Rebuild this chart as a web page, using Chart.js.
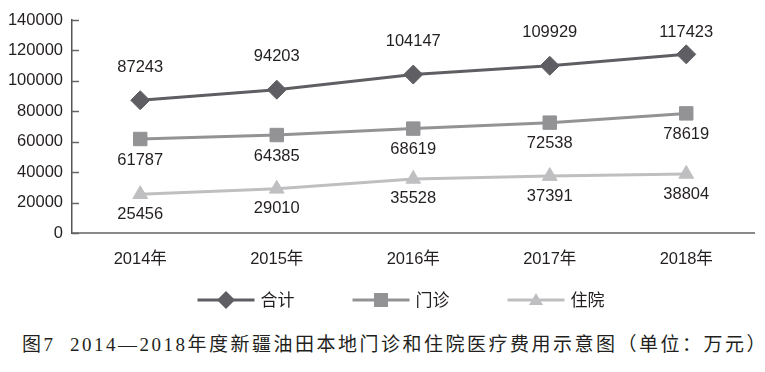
<!DOCTYPE html>
<html>
<head>
<meta charset="utf-8">
<script src="https://cdn.jsdelivr.net/npm/chart.js@4.4.1/dist/chart.umd.min.js"></script>
<style>
  body { margin: 0; background: #fff; }
  #wrap { position: relative; width: 765px; height: 372px; }
  #caption {
    position: absolute; left: 22px; top: 332px; white-space: nowrap;
    font: 19px "Liberation Serif", "Noto Sans CJK SC", serif;
    letter-spacing: 2.5px; color: #231f20; line-height: 26px;
  }
</style>
</head>
<body>
<div id="wrap">
  <canvas id="chart" width="765" height="325"></canvas>
  <div id="caption">图7&nbsp; 2014—2018年度新疆油田本地门诊和住院医疗费用示意图（单位：万元）</div>
</div>
<script>
// Years and cost series (万元)
const years = ["2014年", "2015年", "2016年", "2017年", "2018年"];
const totalCost = [87243, 94203, 104147, 109929, 117423];      // 合计
const outpatientCost = [61787, 64385, 68619, 72538, 78619];    // 门诊
const inpatientCost = [25456, 29010, 35528, 37391, 38804];     // 住院
const yMin = 0, yMax = 140000, yStep = 20000;

const textColor = "#231f20";
const numFont = '"Liberation Sans", Arial, "Noto Sans CJK SC", sans-serif';

// value labels next to each point
const valueLabels = {
  id: "valueLabels",
  afterDatasetsDraw(chart) {
    const ctx = chart.ctx;
    ctx.save();
    ctx.font = "16.5px " + numFont;
    ctx.fillStyle = textColor;
    ctx.textAlign = "center";
    ctx.textBaseline = "middle";
    chart.data.datasets.forEach((ds, i) => {
      chart.getDatasetMeta(i).data.forEach((pt, j) => {
        let y = pt.y + ds.labelOffset;
        if (y < 32) y = 32;
        ctx.fillText(String(ds.data[j]), pt.x, y);
      });
    });
    ctx.restore();
  }
};

// small tick marks pointing into the plot on the y axis
const innerTicks = {
  id: "innerTicks",
  afterDraw(chart) {
    const sc = chart.scales.y;
    const ctx = chart.ctx;
    ctx.save();
    ctx.strokeStyle = "#666";
    ctx.lineWidth = 1.5;
    sc.ticks.forEach(t => {
      const y = Math.round(sc.getPixelForValue(t.value)) + 0.5;
      ctx.beginPath();
      ctx.moveTo(sc.right, y);
      ctx.lineTo(sc.right + 7, y);
      ctx.stroke();
    });
    ctx.restore();
  }
};

// legend: line with marker, then label
const lineLegend = {
  id: "lineLegend",
  afterDraw(chart) {
    const ctx = chart.ctx;
    const lineLen = 57, gap = 6, itemGap = 58, y = 300, cx = 401;
    ctx.save();
    ctx.font = '17px "Noto Sans CJK SC", serif';
    const items = chart.data.datasets.map(ds => ({ ds, w: lineLen + gap + ctx.measureText(ds.label).width }));
    const total = items.reduce((s, it) => s + it.w, 0) + itemGap * (items.length - 1);
    let x = cx - total / 2;
    items.forEach(({ ds, w }) => {
      ctx.strokeStyle = ds.borderColor;
      ctx.lineWidth = 3;
      ctx.beginPath();
      ctx.moveTo(x, y);
      ctx.lineTo(x + lineLen, y);
      ctx.stroke();
      const mx = x + lineLen / 2;
      ctx.fillStyle = ds.backgroundColor;
      ctx.beginPath();
      if (ds.pointStyle === "rectRot") {
        ctx.moveTo(mx - 9, y); ctx.lineTo(mx, y - 9); ctx.lineTo(mx + 9, y); ctx.lineTo(mx, y + 9);
      } else if (ds.pointStyle === "rect") {
        ctx.rect(mx - 7, y - 7, 14, 14);
      } else {
        ctx.moveTo(mx, y - 7); ctx.lineTo(mx + 7, y + 5); ctx.lineTo(mx - 7, y + 5);
      }
      ctx.closePath();
      ctx.fill();
      ctx.fillStyle = textColor;
      ctx.textBaseline = "middle";
      ctx.fillText(ds.label, x + lineLen + gap, y);
      x += w + itemGap;
    });
    ctx.restore();
  }
};

function series(label, data, color, style, radius, offset) {
  return {
    label, data,
    borderColor: color, backgroundColor: color,
    borderWidth: 3,
    pointStyle: style, pointRadius: radius, pointHoverRadius: radius,
    pointBorderWidth: 1, pointBorderColor: color, pointBackgroundColor: color,
    tension: 0,
    labelOffset: offset
  };
}

new Chart(document.getElementById("chart"), {
  type: "line",
  data: {
    labels: years,
    datasets: [
      series("合计", totalCost, "#5f5f63", "rectRot", 9.5, -33),
      series("门诊", outpatientCost, "#939396", "rect", 9.5, 21),
      series("住院", inpatientCost, "#bfbfc1", "triangle", 8.5, 20)
    ]
  },
  options: {
    responsive: false,
    animation: false,
    layout: { padding: { left: 8, right: 1, top: 20, bottom: 48 } },
    plugins: {
      legend: { display: false },
      title: { display: false },
      tooltip: { enabled: false }
    },
    scales: {
      x: {
        offset: true,
        grid: { display: false, drawTicks: false },
        border: { display: true, color: "#8a8a8a", width: 2 },
        ticks: { color: textColor, font: { size: 16.5, family: numFont }, padding: 17, maxRotation: 0 },
        afterFit(scale) { scale.height = 44; }
      },
      y: {
        min: yMin, max: yMax,
        grid: { display: false, drawTicks: false },
        border: { display: true, color: "#555", width: 1.5 },
        ticks: {
          stepSize: yStep, color: textColor, font: { size: 16.5, family: numFont }, padding: 9,
          callback: v => String(v)
        },
        afterFit(scale) { scale.width = 64; }
      }
    }
  },
  plugins: [valueLabels, innerTicks, lineLegend]
});
</script>
</body>
</html>
